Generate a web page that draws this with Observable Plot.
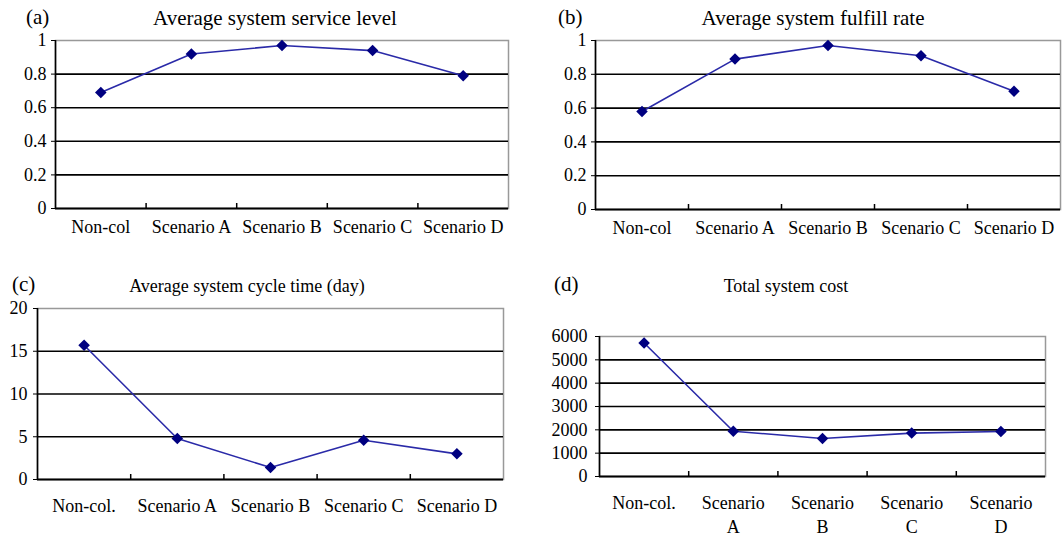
<!DOCTYPE html>
<html>
<head>
<meta charset="utf-8">
<script src="https://cdn.jsdelivr.net/npm/d3@7"></script>
<script src="https://cdn.jsdelivr.net/npm/@observablehq/plot@0.6"></script>
<style>
  html, body { margin: 0; padding: 0; background: #fff; }
  #root { position: relative; width: 1062px; height: 537px; overflow: hidden; background: #fff;
          font-family: "Liberation Serif", "Times New Roman", serif; color: #000; }
  .lbl { position: absolute; white-space: nowrap; line-height: 1; }
  .ttl { position: absolute; white-space: nowrap; line-height: 1; transform: translateX(-50%); }
  .panel { position: absolute; }
</style>
</head>
<body>
<div id="root"></div>
<script>
// ---- data ----
const categoriesTop = ["Non-col", "Scenario A", "Scenario B", "Scenario C", "Scenario D"];
const categoriesCycle = ["Non-col.", "Scenario A", "Scenario B", "Scenario C", "Scenario D"];
const categoriesCost = ["Non-col.", "Scenario\nA", "Scenario\nB", "Scenario\nC", "Scenario\nD"];

const serviceLevel = [0.69, 0.92, 0.97, 0.94, 0.79];
const fulfillRate = [0.58, 0.89, 0.97, 0.91, 0.70];
const cycleTime = [15.7, 4.8, 1.4, 4.6, 3.0];
const totalCost = [5720, 1940, 1630, 1860, 1930];

const ticksRate = [0, 0.2, 0.4, 0.6, 0.8, 1];
const ticksCycle = [0, 5, 10, 15, 20];
const ticksCost = [0, 1000, 2000, 3000, 4000, 5000, 6000];

const panelTitles = ["Average system service level", "Average system fulfill rate",
                     "Average system cycle time (day)", "Total system cost"];
const panelTags = ["(a)", "(b)", "(c)", "(d)"];

// ---- drawing ----
const root = document.getElementById("root");

function panel(cats, values, yTicks, L) {
  const n = cats.length;
  const data = values.map((v, i) => ({i, cat: cats[i], v}));
  const bounds = d3.range(1, n).map(i => i - 0.5);
  const plotH = L.height - L.mt - L.mb;
  const yMax = yTicks[yTicks.length - 1];
  const chart = Plot.plot({
    width: L.width, height: L.height,
    marginLeft: L.ml, marginRight: L.mr, marginTop: L.mt, marginBottom: L.mb,
    style: {fontFamily: "Liberation Serif, Times New Roman, serif", fontSize: "18px", color: "#000", background: "#fff", overflow: "visible"},
    x: {type: "linear", domain: [-0.5, n - 0.5], label: null},
    y: {type: "linear", domain: [0, yMax], label: null},
    marks: [
      Plot.frame({stroke: "#999", strokeWidth: 1.5}),
      Plot.ruleY(yTicks.filter(t => t !== 0 && t !== yMax), {stroke: "#000", strokeWidth: 1.6}),
      Plot.ruleY([0], {stroke: "#000", strokeWidth: 2}),
      Plot.ruleX([-0.5], {stroke: "#000", strokeWidth: 1.6}),
      Plot.ruleX(bounds, {stroke: "#000", strokeWidth: 1.5, insetTop: plotH - 5}),
      Plot.axisY({ticks: yTicks, tickFormat: d => String(d), tickSize: 4, tickPadding: L.ytp, stroke: "#000", fontSize: 18, label: null}),
      Plot.axisX({ticks: d3.range(n), tickFormat: i => cats[i], tickSize: 0, tickPadding: L.xtp, lineHeight: L.lh || 1, fontSize: 18, label: null}),
      Plot.line(data, {x: "i", y: "v", stroke: "#2a2aa8", strokeWidth: 1.6}),
      Plot.dot(data, {x: "i", y: "v", symbol: "diamond2", r: 5.2, fill: "#000080", stroke: "none"})
    ]
  });
  const wrap = document.createElement("div");
  wrap.className = "panel";
  wrap.style.left = L.left + "px";
  wrap.style.top = L.top + "px";
  wrap.appendChild(chart);
  root.appendChild(wrap);
}

function label(text, cls, left, top, size) {
  const d = document.createElement("div");
  d.className = cls;
  d.textContent = text;
  d.style.left = left + "px";
  d.style.top = top + "px";
  d.style.fontSize = size + "px";
  root.appendChild(d);
}

panel(categoriesTop, serviceLevel, ticksRate,
  {left: 0, top: 30, width: 520, height: 215, ml: 55, mr: 12, mt: 10, mb: 37, ytp: 5, xtp: 12});
panel(categoriesTop, fulfillRate, ticksRate,
  {left: 531, top: 30, width: 531, height: 215, ml: 64, mr: 2, mt: 10, mb: 36, ytp: 5, xtp: 12});
panel(categoriesCycle, cycleTime, ticksCycle,
  {left: 0, top: 298, width: 520, height: 239, ml: 37, mr: 17, mt: 10, mb: 58, ytp: 6, xtp: 20});
panel(categoriesCost, totalCost, ticksCost,
  {left: 531, top: 326, width: 531, height: 211, ml: 68, mr: 17, mt: 10, mb: 61, ytp: 8, xtp: 15, lh: 1.36});

label(panelTags[0], "lbl", 26, 7, 21);
label(panelTitles[0], "ttl", 275, 8, 21);
label(panelTags[1], "lbl", 558, 7, 21);
label(panelTitles[1], "ttl", 813, 8, 21);
label(panelTags[2], "lbl", 12, 274, 21);
label(panelTitles[2], "ttl", 247, 277, 18);
label(panelTags[3], "lbl", 554, 274, 21);
label(panelTitles[3], "ttl", 786, 277, 18);
</script>
</body>
</html>
